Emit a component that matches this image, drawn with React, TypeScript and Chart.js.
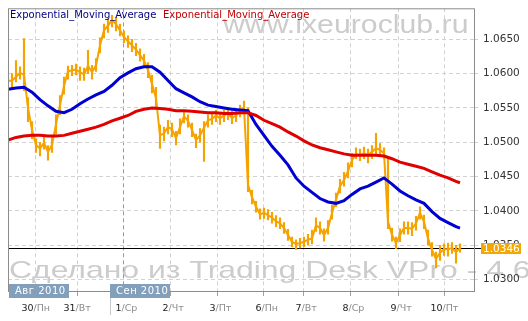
import React, { useEffect, useRef } from "react";
import { Chart, registerables } from "chart.js";

Chart.register(...registerables);

// ---- data ----
const legendLabels = ["Exponential_Moving_Average", "Exponential_Moving_Average"];
const yTickValues = [1.03, 1.035, 1.04, 1.045, 1.05, 1.055, 1.06, 1.065];
const dayPositions = [6.75, 17.25, 28.75, 40.5, 52.25, 63.75, 73.75, 85.5, 97.5, 109];
const dayNumbers = ["30", "31", "1", "2", "3", "6", "7", "8", "9", "10"];
const dayNames = ["Пн", "Вт", "Ср", "Чт", "Пт", "Пн", "Вт", "Ср", "Чт", "Пт"];
const monthLabels = ["Авг 2010", "Сен 2010"];
const monthStarts = [0.25, 25.5];
const monthBoundary = 28.75;
const lastPrice = 1.0346;
const watermarkTop = "www.ixeuroclub.ru";
const watermarkBottom = "Сделано из Trading Desk VPro - 4.6";

const priceClose = [
  1.0589, 1.059, 1.0595, 1.0601, 1.0598, 1.055, 1.0518, 1.0496, 1.0491, 1.0499,
  1.0486, 1.0496, 1.0526, 1.0554, 1.0582, 1.0603, 1.0605, 1.0606, 1.0602, 1.0599,
  1.0611, 1.0602, 1.0612, 1.0641, 1.0663, 1.067, 1.0678, 1.0672, 1.0663, 1.0653,
  1.0647, 1.0641, 1.0635, 1.0627, 1.0619, 1.0605, 1.0585, 1.0564, 1.051, 1.0513,
  1.0522, 1.0519, 1.0506, 1.0522, 1.0538, 1.0531, 1.0518, 1.0503, 1.051, 1.0521,
  1.0532, 1.0534, 1.0539, 1.0535, 1.0539, 1.0542, 1.0535, 1.0539, 1.0545, 1.055,
  1.0438, 1.042, 1.0406, 1.0395, 1.0397, 1.0394, 1.039, 1.0385, 1.0382, 1.0375,
  1.0365, 1.0355, 1.0352, 1.0353, 1.0355, 1.0358, 1.036, 1.0379, 1.0375, 1.0365,
  1.0375, 1.0397, 1.0416, 1.0436, 1.0445, 1.0458, 1.0474, 1.0483, 1.0481, 1.0484,
  1.0481, 1.0486, 1.0491, 1.0489, 1.0484, 1.0384, 1.0365, 1.0353, 1.0365, 1.0375,
  1.0375, 1.0374, 1.0382, 1.0397, 1.0384, 1.036, 1.0343, 1.033, 1.0339, 1.0344,
  1.0344, 1.0346, 1.034, 1.0346,
];
const priceHigh = [
  1.0597, 1.06, 1.0619, 1.061, 1.0651, 1.0565, 1.053, 1.0505, 1.05, 1.0507,
  1.0495, 1.0508, 1.054, 1.0568, 1.0595, 1.0611, 1.0612, 1.0614, 1.061, 1.0608,
  1.0634, 1.0612, 1.0622, 1.0652, 1.0672, 1.068, 1.0685, 1.0682, 1.0672, 1.0662,
  1.0655, 1.065, 1.0644, 1.0636, 1.0628, 1.0616, 1.0598, 1.058, 1.0525, 1.0522,
  1.0532, 1.0528, 1.0516, 1.0534, 1.0546, 1.054, 1.0528, 1.0512, 1.052, 1.053,
  1.054, 1.0542, 1.0547, 1.0543, 1.0547, 1.055, 1.0545, 1.0548, 1.0554, 1.056,
  1.055, 1.043, 1.0414, 1.0403, 1.0404, 1.0402, 1.0398, 1.0393, 1.039, 1.0383,
  1.0373, 1.0362, 1.0358, 1.036, 1.0362, 1.0366, 1.0372, 1.039, 1.0384, 1.0374,
  1.0386, 1.0408, 1.0426, 1.0446, 1.0456, 1.047, 1.0484, 1.0492, 1.049, 1.0493,
  1.049, 1.0495, 1.0513, 1.0498, 1.0492, 1.0478, 1.0375, 1.0362, 1.0374, 1.0384,
  1.0384, 1.0383, 1.0392, 1.0406, 1.0394, 1.0372, 1.0354, 1.034, 1.035, 1.0352,
  1.0353, 1.0354, 1.035, 1.0352,
];
const priceLow = [
  1.0583, 1.058, 1.0588, 1.0592, 1.0575, 1.053, 1.0505, 1.0485, 1.048, 1.049,
  1.0474, 1.0485, 1.0512, 1.054, 1.057, 1.0592, 1.0597, 1.0598, 1.059, 1.059,
  1.06, 1.0592, 1.0603, 1.063, 1.0652, 1.066, 1.0668, 1.0662, 1.0655, 1.0645,
  1.0638, 1.0632, 1.0626, 1.0618, 1.061, 1.0594, 1.0572, 1.0548, 1.0491, 1.0502,
  1.0512, 1.0508, 1.0496, 1.0512, 1.0528, 1.0522, 1.0508, 1.0492, 1.05, 1.0472,
  1.0522, 1.0526, 1.053, 1.0526, 1.053, 1.0533, 1.0527, 1.053, 1.0537, 1.0542,
  1.0428, 1.041, 1.0398, 1.0388, 1.0389, 1.0387, 1.0382, 1.0377, 1.0374, 1.0367,
  1.0357, 1.0348, 1.0344, 1.0346, 1.0348, 1.035, 1.0352, 1.037, 1.0366, 1.0356,
  1.0366, 1.0388, 1.0406, 1.0426, 1.0436, 1.0448, 1.0464, 1.0476, 1.0473, 1.0476,
  1.047, 1.0476, 1.048, 1.048, 1.0476, 1.0374, 1.0356, 1.0345, 1.0355, 1.0366,
  1.0366, 1.0364, 1.0372, 1.0388, 1.0374, 1.035, 1.0334, 1.0317, 1.0328, 1.0335,
  1.0334, 1.0338, 1.0324, 1.034,
];
// EMA values sampled every second bar (last value is the final bar)
const emaFast = [
  1.0577, 1.0579, 1.058, 1.0573, 1.0562, 1.0553, 1.0545, 1.0543, 1.0548, 1.0556,
  1.0563, 1.0569, 1.0574, 1.0583, 1.0594, 1.0601, 1.0607, 1.061, 1.061, 1.0602,
  1.059, 1.0578, 1.0572, 1.0566, 1.0559, 1.0554, 1.0552, 1.055, 1.0548, 1.0547,
  1.0546, 1.0526, 1.051, 1.0494, 1.0481, 1.0467, 1.0448, 1.0436, 1.0427, 1.0418,
  1.0413, 1.0411, 1.0415, 1.0424, 1.0432, 1.0436, 1.0442, 1.0448, 1.0439, 1.0429,
  1.0422, 1.0416, 1.0411, 1.0399, 1.0389, 1.0383, 1.0377, 1.0375,
];
const emaSlow = [
  1.0503, 1.0507, 1.0509, 1.051, 1.051, 1.0509, 1.0509, 1.051, 1.0513, 1.0516,
  1.0519, 1.0522, 1.0526, 1.0531, 1.0535, 1.0539, 1.0545, 1.0548, 1.055, 1.0549,
  1.0548, 1.0546, 1.0546, 1.0545, 1.0544, 1.0543, 1.0543, 1.0542, 1.0542, 1.0543,
  1.0543, 1.0539, 1.0532, 1.0527, 1.0522, 1.0515, 1.0509, 1.0502, 1.0496, 1.0492,
  1.0489, 1.0486, 1.0483, 1.0481, 1.0481, 1.0481, 1.0481, 1.048, 1.0476, 1.0471,
  1.0468, 1.0465, 1.0462, 1.0457, 1.0452, 1.0448, 1.0443, 1.0441,
];

// ---- style ----
const ORANGE = "#f5a300";
const BLUE = "#0000d2";
const RED = "#e00000";
const FONT = '"DejaVu Sans", Verdana, sans-serif';

const decorPlugin = {
  id: "decor",
  beforeDraw(chart: any) {
    const { ctx } = chart;
    ctx.save();
    ctx.fillStyle = "#cccccc";
    ctx.textAlign = "left";
    ctx.textBaseline = "alphabetic";
    ctx.save();
    ctx.translate(223, 33);
    ctx.scale(1.21, 1);
    ctx.font = '25px "Liberation Sans", Arial, sans-serif';
    ctx.fillText(watermarkTop, 0, 0);
    ctx.restore();
    ctx.save();
    ctx.translate(9, 278);
    ctx.scale(1.33, 1);
    ctx.font = '24px "Liberation Sans", Arial, sans-serif';
    ctx.fillText(watermarkBottom, 0, 0);
    ctx.restore();
    ctx.restore();
  },
  beforeDatasetsDraw(chart: any) {
    const { ctx, chartArea: a, scales } = chart;
    const py = Math.round(scales.y.getPixelForValue(lastPrice)) + 0.5;
    ctx.save();
    ctx.strokeStyle = "#000";
    ctx.lineWidth = 1;
    ctx.beginPath();
    ctx.moveTo(a.left, py);
    ctx.lineTo(a.right + 7, py);
    ctx.stroke();
    ctx.restore();
  },
  afterDraw(chart: any) {
    const { ctx, chartArea: a, scales } = chart;
    const x = scales.x;
    const y = scales.y;
    ctx.save();
    // frame
    ctx.strokeStyle = "#8c8c8c";
    ctx.lineWidth = 1;
    ctx.strokeRect(a.left + 0.5, a.top + 0.5, a.right - a.left, a.bottom - a.top);
    // legend
    ctx.font = "10px " + FONT;
    ctx.textBaseline = "middle";
    ctx.textAlign = "left";
    ctx.fillStyle = "#000080";
    ctx.fillText(legendLabels[0], a.left + 2, a.top + 7.5);
    ctx.fillStyle = "#c00000";
    ctx.fillText(legendLabels[1], a.left + 155, a.top + 7.5);
    // last price box
    const py = Math.round(y.getPixelForValue(lastPrice)) + 0.5;
    ctx.fillStyle = "#f2a800";
    ctx.fillRect(a.right + 7, py - 5.5, 40, 11);
    ctx.fillStyle = "#ffffff";
    ctx.font = "10.5px " + FONT;
    ctx.fillText(lastPrice.toFixed(4), a.right + 9, py + 0.5);
    // day labels
    ctx.font = "9.5px " + FONT;
    dayPositions.forEach((p, k) => {
      const gx = x.getPixelForValue(p);
      ctx.textAlign = "right";
      ctx.fillStyle = "#222222";
      ctx.fillText(dayNumbers[k], gx - 1.5, 309);
      ctx.textAlign = "left";
      ctx.fillStyle = "#8c8c8c";
      ctx.fillText("/" + dayNames[k], gx - 1.5, 309);
    });
    // month boxes
    monthStarts.forEach((m, k) => {
      const bx = Math.round(x.getPixelForValue(m));
      if (k > 0) {
        ctx.strokeStyle = "#c8c8c8";
        ctx.beginPath();
        ctx.moveTo(bx + 0.5, a.bottom + 7);
        ctx.lineTo(bx + 0.5, a.bottom + 24);
        ctx.stroke();
      }
      ctx.fillStyle = "#829fbb";
      ctx.fillRect(bx, a.bottom - 7, 60, 14);
      ctx.fillStyle = "#ffffff";
      ctx.font = "10px " + FONT;
      ctx.textAlign = "left";
      (ctx as any).letterSpacing = "0.5px";
      ctx.fillText(monthLabels[k], bx + 6, a.bottom + 0.5);
      (ctx as any).letterSpacing = "0px";
    });
    ctx.restore();
  },
};

export default function App() {
  const ref = useRef<HTMLCanvasElement | null>(null);
  useEffect(() => {
    document.body.style.margin = "0";
    const canvas = ref.current;
    if (!canvas) return;
    const chart = new Chart(canvas, {
      type: "line",
      data: {
        datasets: [
          {
            type: "bar",
            data: priceHigh.map((h, i) => ({ x: i, y: [priceLow[i], h] })) as any,
            backgroundColor: ORANGE,
            barThickness: 1.5,
            grouped: false,
            order: 4,
          } as any,
          {
            type: "line",
            data: priceClose.map((v, i) => ({ x: i, y: v })),
            borderColor: ORANGE,
            borderWidth: 2,
            pointRadius: 0,
            tension: 0,
            order: 3,
          },
          {
            type: "line",
            data: emaFast.map((v, k) => ({ x: Math.min(k * 2, priceClose.length - 1), y: v })),
            borderColor: BLUE,
            borderWidth: 3,
            pointRadius: 0,
            tension: 0,
            order: 2,
          },
          {
            type: "line",
            data: emaSlow.map((v, k) => ({ x: Math.min(k * 2, priceClose.length - 1), y: v })),
            borderColor: RED,
            borderWidth: 3,
            pointRadius: 0,
            tension: 0,
            order: 1,
          },
        ],
      },
      options: {
        responsive: false,
        animation: false,
        events: [],
        layout: { padding: { left: 8, top: 8, right: 0, bottom: 0 } },
        plugins: { legend: { display: false }, tooltip: { enabled: false } },
        scales: {
          x: {
            type: "linear",
            min: 0,
            max: 116.5,
            offset: false,
            border: { display: false, dash: [4, 3] },
            afterBuildTicks: (s: any) => {
              s.ticks = dayPositions.map((v) => ({ value: v }));
            },
            afterFit: (s: any) => {
              s.height = 30;
            },
            ticks: { display: false },
            grid: {
              offset: false,
              color: (c: any) => (c.tick && c.tick.value === monthBoundary ? "#9a9a9a" : "#d2d2d2"),
              tickColor: "#a0a0a0",
              tickLength: 5,
              tickBorderDash: [],
            } as any,
          },
          y: {
            type: "linear",
            position: "right",
            min: 1.02833,
            max: 1.06951,
            border: { display: false, dash: [4, 3] },
            afterBuildTicks: (s: any) => {
              s.ticks = yTickValues.map((v) => ({ value: v }));
            },
            afterFit: (s: any) => {
              s.width = 54;
            },
            ticks: {
              autoSkip: false,
              padding: 2,
              color: "#333333",
              font: { family: FONT, size: 10.5 },
              callback: (v: any) => Number(v).toFixed(4),
            },
            grid: {
              color: "#d2d2d2",
              tickLength: 7,
              tickBorderDash: [4, 3],
            } as any,
          },
        },
      },
      plugins: [decorPlugin],
    });
    return () => chart.destroy();
  }, []);
  return (
    <div style={{ width: 528, height: 321, position: "relative" }}>
      <canvas ref={ref} width={528} height={321} style={{ display: "block" }} />
    </div>
  );
}
